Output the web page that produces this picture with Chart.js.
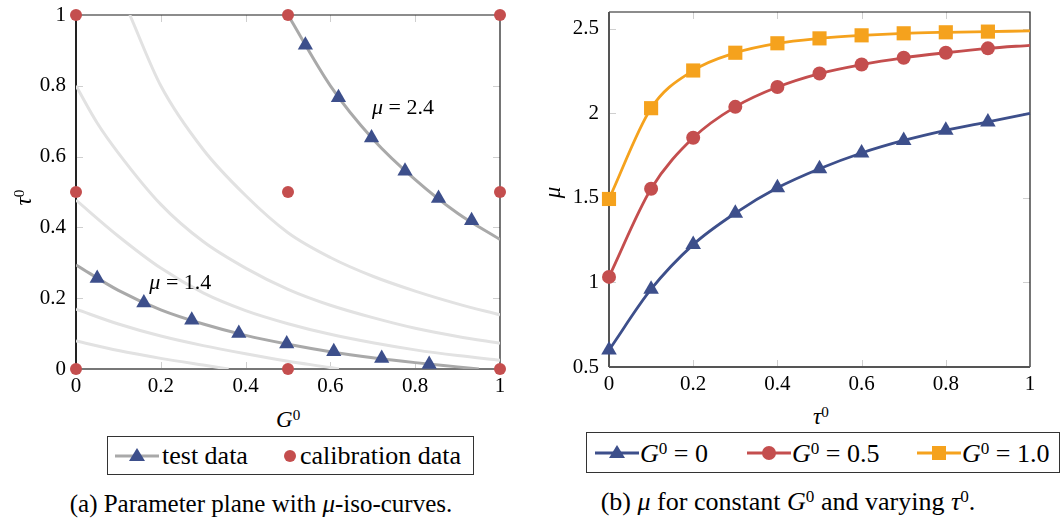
<!DOCTYPE html>
<html>
<head>
<meta charset="utf-8">
<script src="https://cdn.jsdelivr.net/npm/chart.js@4.4.1/dist/chart.umd.min.js"></script>
<style>
    body { margin: 0; width: 1062px; height: 522px; background: #fff; position: relative; overflow: hidden;
           font-family: 'Liberation Serif', 'Times New Roman', serif; color: #000; }
    .wrap { position: absolute; top: 0; width: 531px; height: 400px; }
    .title { position: absolute; font-size: 23px; white-space: nowrap; line-height: 1; }
    sup { font-size: 0.66em; vertical-align: 0; position: relative; top: -0.45em; }
    .legend { position: absolute; border: 1px solid #333; box-sizing: border-box; }
    .leg { position: absolute; font-size: 26px; line-height: 1; white-space: nowrap; }
    .icon { position: absolute; }
    .cap { position: absolute; white-space: nowrap; line-height: 1; transform: translateX(-50%); }
</style>
</head>
<body>
<div class="wrap" style="left:0"><canvas id="chartA" width="531" height="400"></canvas></div>
<div class="wrap" style="left:531px"><canvas id="chartB" width="531" height="400"></canvas></div>

<!-- axis titles -->
<div class="title" style="left:16px; top:186px; transform: rotate(-90deg);"><i>τ</i><sup>0</sup></div>
<div class="title" style="left:276px; top:408px;"><i>G</i><sup>0</sup></div>
<div class="title" style="left:547px; top:181px; transform: rotate(-90deg);"><i>μ</i></div>
<div class="title" style="left:813px; top:405px;"><i>τ</i><sup>0</sup></div>

<!-- legend (a) -->
<div class="legend" style="left:107px; top:436px; width:367px; height:39px;">
    <svg class="icon" style="left:5px; top:8px" width="48" height="22">
        <line x1="2" y1="11" x2="46" y2="11" stroke="#a9a9a9" stroke-width="3"/>
        <polygon points="24,3 32,16 16,16" fill="#3d4f8b"/>
    </svg>
    <span class="leg" style="left:54px; top:6px">test data</span>
    <svg class="icon" style="left:172px; top:8px" width="22" height="22">
        <circle cx="10" cy="11" r="6" fill="#c44e4e"/>
    </svg>
    <span class="leg" style="left:192px; top:6px">calibration data</span>
</div>

<!-- legend (b) -->
<div class="legend" style="left:586px; top:432px; width:474px; height:41px;">
    <svg class="icon" style="left:7px; top:9px" width="46" height="22">
        <line x1="1" y1="11" x2="45" y2="11" stroke="#3d4f8b" stroke-width="3"/>
        <polygon points="23,3 31,16 15,16" fill="#3d4f8b"/>
    </svg>
    <span class="leg" style="left:53px; top:8px"><i>G</i><sup>0</sup> = 0</span>
    <svg class="icon" style="left:159px; top:9px" width="46" height="22">
        <line x1="1" y1="11" x2="45" y2="11" stroke="#c44e4e" stroke-width="3"/>
        <circle cx="23" cy="11" r="7" fill="#c44e4e"/>
    </svg>
    <span class="leg" style="left:205px; top:8px"><i>G</i><sup>0</sup> = 0.5</span>
    <svg class="icon" style="left:329px; top:9px" width="46" height="22">
        <line x1="1" y1="11" x2="45" y2="11" stroke="#f5a21d" stroke-width="3"/>
        <rect x="16" y="4" width="14" height="14" fill="#f5a21d"/>
    </svg>
    <span class="leg" style="left:375px; top:8px"><i>G</i><sup>0</sup> = 1.0</span>
</div>

<div class="cap" style="left:261px; top:491px; font-size:25px">(a) Parameter plane with <i>μ</i>-iso-curves.</div>
<div class="cap" style="left:788px; top:489px; font-size:26px">(b) <i>μ</i> for constant <i>G</i><sup>0</sup> and varying <i>τ</i><sup>0</sup>.</div>

<script>
// ---- (a) parameter plane: mu-iso-curves ----
const iso090G   = [0, 0.1, 0.2, 0.3, 0.36];
const iso090Tau = [0.079, 0.052, 0.030, 0.011, 0];
const iso115G   = [0, 0.1, 0.2, 0.3, 0.4, 0.5, 0.6, 0.62];
const iso115Tau = [0.169, 0.127, 0.093, 0.066, 0.043, 0.022, 0.004, 0];
const iso140G   = [0, 0.1, 0.2, 0.3, 0.4, 0.5, 0.6, 0.7, 0.8, 0.9, 0.95];
const iso140Tau = [0.294, 0.222, 0.167, 0.127, 0.095, 0.070, 0.049, 0.032, 0.018, 0.006, 0];
const iso165G   = [0, 0.1, 0.2, 0.3, 0.4, 0.5, 0.6, 0.7, 0.8, 0.9, 1];
const iso165Tau = [0.477, 0.375, 0.285, 0.215, 0.165, 0.128, 0.098, 0.074, 0.054, 0.038, 0.025];
const iso190G   = [0, 0.05, 0.1, 0.2, 0.3, 0.4, 0.5, 0.6, 0.7, 0.8, 0.9, 1];
const iso190Tau = [0.80, 0.695, 0.61, 0.465, 0.36, 0.285, 0.225, 0.18, 0.145, 0.115, 0.092, 0.073];
const iso215G   = [0.127, 0.2, 0.3, 0.4, 0.5, 0.6, 0.7, 0.8, 0.9, 1];
const iso215Tau = [1.0, 0.80, 0.62, 0.49, 0.385, 0.315, 0.262, 0.22, 0.184, 0.153];
const iso240G   = [0.5, 0.6, 0.7, 0.8, 0.9, 1];
const iso240Tau = [1.0, 0.80, 0.65, 0.535, 0.44, 0.366];

const testG   = [0.05, 0.16, 0.273, 0.384, 0.497, 0.608, 0.721, 0.833, 0.541, 0.619, 0.697, 0.776, 0.855, 0.933];
const testTau = [0.256, 0.187, 0.138, 0.101, 0.071, 0.049, 0.030, 0.013, 0.915, 0.767, 0.653, 0.559, 0.482, 0.419];
const calG    = [0, 0.5, 1, 0, 0.5, 1, 0, 0.5, 1];
const calTau  = [0, 0, 0, 0.5, 0.5, 0.5, 1, 1, 1];

const planeTicks = [0, 0.2, 0.4, 0.6, 0.8, 1];
const planeTickLabels = ['0', '0.2', '0.4', '0.6', '0.8', '1'];

// ---- (b) mu over tau0 for constant G0 ----
const tauSteps = [0, 0.1, 0.2, 0.3, 0.4, 0.5, 0.6, 0.7, 0.8, 0.9, 1];
const muG00 = [0.6, 0.96, 1.224, 1.41, 1.56, 1.673, 1.766, 1.84, 1.9, 1.95, 2.0];
const muG05 = [1.033, 1.554, 1.856, 2.039, 2.156, 2.236, 2.289, 2.329, 2.359, 2.385, 2.403];
const muG10 = [1.494, 2.031, 2.254, 2.359, 2.415, 2.444, 2.462, 2.474, 2.48, 2.484, 2.488];
const tauTicks = [0, 0.2, 0.4, 0.6, 0.8, 1];
const tauTickLabels = ['0', '0.2', '0.4', '0.6', '0.8', '1'];
const muTicks = [0.5, 1, 1.5, 2, 2.5];
const muTickLabels = ['0.5', '1', '1.5', '2', '2.5'];

const BLUE = '#3d4f8b', RED = '#c44e4e', ORANGE = '#f5a21d';
const LIGHT = '#e2e2e2', DARK = '#a9a9a9';
const FONT = "'Liberation Serif', 'Times New Roman', serif";

const pts = (xs, ys) => xs.map((x, i) => ({ x: x, y: ys[i] }));

// draws the box and the little inside tick marks pgfplots-style
function frameAndTicks(leftColor, bottomColor) {
    return {
        id: 'frame',
        beforeDatasetsDraw(chart) {
            const { ctx, chartArea: a, scales } = chart;
            ctx.save();
            ctx.strokeStyle = '#cfcfcf';
            ctx.lineWidth = 1;
            scales.x.ticks.forEach(t => {
                if (t.value <= scales.x.min || t.value >= scales.x.max) return;
                const px = Math.round(scales.x.getPixelForValue(t.value)) + 0.5;
                ctx.beginPath();
                ctx.moveTo(px, a.top); ctx.lineTo(px, a.top + 7);
                ctx.moveTo(px, a.bottom); ctx.lineTo(px, a.bottom - 7);
                ctx.stroke();
            });
            scales.y.ticks.forEach(t => {
                if (t.value <= scales.y.min || t.value >= scales.y.max) return;
                const py = Math.round(scales.y.getPixelForValue(t.value)) + 0.5;
                ctx.beginPath();
                ctx.moveTo(a.left, py); ctx.lineTo(a.left + 7, py);
                ctx.moveTo(a.right, py); ctx.lineTo(a.right - 7, py);
                ctx.stroke();
            });
            ctx.lineWidth = 1.2;
            ctx.strokeStyle = '#1a1a1a';
            ctx.beginPath();
            ctx.moveTo(a.left, a.top); ctx.lineTo(a.right, a.top); ctx.lineTo(a.right, a.bottom);
            ctx.stroke();
            ctx.lineWidth = 2;
            ctx.strokeStyle = leftColor;
            ctx.beginPath();
            ctx.moveTo(a.left, a.top); ctx.lineTo(a.left, a.bottom);
            ctx.stroke();
            ctx.strokeStyle = bottomColor;
            ctx.beginPath();
            ctx.moveTo(a.left, a.bottom); ctx.lineTo(a.right, a.bottom);
            ctx.stroke();
            ctx.restore();
        }
    };
}

// tick marks are invisible; their length only pushes the labels away from the frame
// (ticks.padding would also grow the top/bottom padding of the y axis)
function axis(ticks, labels, min, max, size, isX, gap) {
    return {
        type: 'linear', min: min, max: max,
        afterBuildTicks: s => { s.ticks = ticks.map(v => ({ value: v })); },
        afterFit: s => { if (isX) s.height = size; else s.width = size; },
        grid: { display: true, drawOnChartArea: false, drawTicks: true, tickLength: gap, color: 'rgba(0,0,0,0)' },
        border: { display: false },
        ticks: {
            autoSkip: false, maxRotation: 0, padding: 1, color: '#000',
            font: { family: FONT, size: 21, lineHeight: 1 },
            callback: (v, i) => labels[i]
        }
    };
}

// mu = ... labels next to the highlighted iso-curves
const isoLabels = {
    id: 'isoLabels',
    afterDatasetsDraw(chart) {
        const { ctx, scales } = chart;
        const spots = [{ text: '2.4', g: 0.698, tau: 0.737 }, { text: '1.4', g: 0.173, tau: 0.242 }];
        ctx.save();
        ctx.fillStyle = '#000';
        ctx.textBaseline = 'middle';
        spots.forEach(s => {
            const px = scales.x.getPixelForValue(s.g);
            const py = scales.y.getPixelForValue(s.tau);
            ctx.font = 'italic 22px ' + FONT;
            ctx.fillText('μ', px, py);
            const w = ctx.measureText('μ').width;
            ctx.font = '22px ' + FONT;
            ctx.fillText(' = ' + s.text, px + w, py);
        });
        ctx.restore();
    }
};

function isoCurve(xs, ys, color) {
    return {
        data: pts(xs, ys), borderColor: color, borderWidth: 3, pointRadius: 0,
        cubicInterpolationMode: 'monotone', fill: false
    };
}

new Chart(document.getElementById('chartA'), {
    type: 'line',
    data: {
        datasets: [
            { data: pts(calG, calTau), showLine: false, pointStyle: 'circle', pointRadius: 6,
              pointBackgroundColor: RED, pointBorderWidth: 0, clip: false },
            { data: pts(testG, testTau), showLine: false, pointStyle: 'triangle', pointRadius: 8.8,
              pointBackgroundColor: BLUE, pointBorderWidth: 0, clip: false },
            isoCurve(iso140G, iso140Tau, DARK),
            isoCurve(iso240G, iso240Tau, DARK),
            isoCurve(iso090G, iso090Tau, LIGHT),
            isoCurve(iso115G, iso115Tau, LIGHT),
            isoCurve(iso165G, iso165Tau, LIGHT),
            isoCurve(iso190G, iso190Tau, LIGHT),
            isoCurve(iso215G, iso215Tau, LIGHT)
        ]
    },
    options: {
        responsive: false,
        animation: false,
        devicePixelRatio: 1,
        layout: { padding: { top: 15, right: 31, left: 0, bottom: 0 } },
        plugins: { legend: { display: false }, tooltip: { enabled: false } },
        scales: {
            x: axis(planeTicks, planeTickLabels, 0, 1, 31, true, 6),
            y: axis(planeTicks, planeTickLabels, 0, 1, 76, false, 9)
        }
    },
    plugins: [frameAndTicks('#222', '#777'), isoLabels]
});

function muSeries(ys, color, style, radius) {
    return {
        data: pts(tauSteps, ys), borderColor: color, borderWidth: 2.8,
        pointStyle: style, pointBackgroundColor: color, pointBorderWidth: 0,
        // last value only ends the line, no marker there
        pointRadius: ys.map((v, i) => i === ys.length - 1 ? 0 : radius),
        cubicInterpolationMode: 'monotone', fill: false, clip: false
    };
}

new Chart(document.getElementById('chartB'), {
    type: 'line',
    data: {
        datasets: [
            muSeries(muG10, ORANGE, 'rect', 10),
            muSeries(muG05, RED, 'circle', 7),
            muSeries(muG00, BLUE, 'triangle', 9)
        ]
    },
    options: {
        responsive: false,
        animation: false,
        devicePixelRatio: 1,
        layout: { padding: { top: 12, right: 32, left: 0, bottom: 0 } },
        plugins: { legend: { display: false }, tooltip: { enabled: false } },
        scales: {
            x: axis(tauTicks, tauTickLabels, 0, 1, 33, true, 6),
            y: axis(muTicks, muTickLabels, 0.5, 2.6, 78, false, 9)
        }
    },
    plugins: [frameAndTicks('#555', '#555')]
});
</script>
</body>
</html>
